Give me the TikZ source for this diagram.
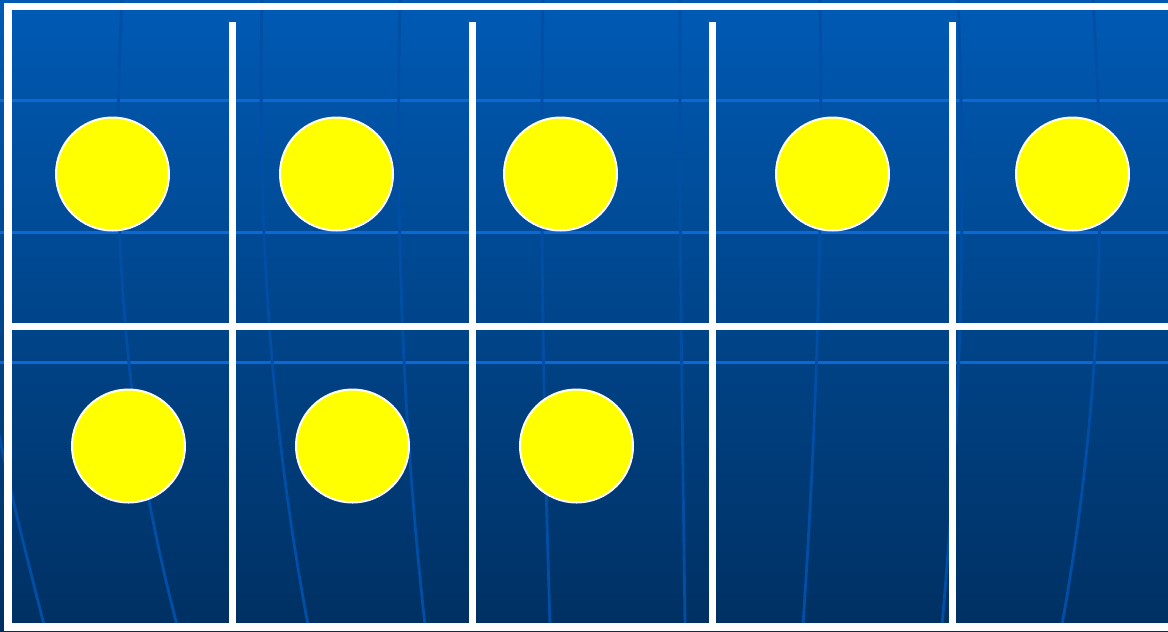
\documentclass[tikz,border=0pt]{standalone}
\usepackage{tikz}
\usetikzlibrary{positioning}
\definecolor{skytop}{RGB}{0,90,180}
\definecolor{skybottom}{RGB}{0,48,98}
\definecolor{glow}{RGB}{12,104,214}
\definecolor{meridian}{RGB}{0,78,165}
\definecolor{sun}{RGB}{255,255,0}
\tikzset{
  every picture/.style={line width=0.5pt},
  disc/.style={circle, draw=white, line width=0.2mm, fill=sun, minimum size=11.3mm, inner sep=0pt},
  frameline/.style={draw=white, line width=0.72mm},
  latline/.style={draw=glow, line width=0.3mm},
  longline/.style={draw=meridian, line width=0.28mm},
}

\begin{document}
\begin{tikzpicture}[x=0.1mm, y=-0.1mm]
  % backdrop
  \shade[top color=skytop, bottom color=skybottom] (0,0) rectangle (1168,631);
  \useasboundingbox (0,0) rectangle (1168,631);
  \foreach \y in {100,232,362} { \draw[latline] (0,\y) -- (1168,\y); }
  \draw[longline] (-2,430) .. controls (15,510) .. (44,625);
  \draw[longline] (122,0) .. controls (112,200) and (118,400) .. (177,625);
  \draw[longline] (262,0) .. controls (258,200) and (266,400) .. (308,625);
  \draw[longline] (400,0) .. controls (396,200) and (400,400) .. (425,625);
  \draw[longline] (543,0) .. controls (540,200) and (543,400) .. (550,625);
  \draw[longline] (680,0) .. controls (680,250) .. (685,625);
  \draw[longline] (820,0) .. controls (823,200) and (818,400) .. (803,625);
  \draw[longline] (958,0) .. controls (966,200) and (962,400) .. (942,625);
  \draw[longline] (1093,0) .. controls (1106,200) and (1102,400) .. (1062,625);
  % white frame
  \draw[frameline] (4,6.5) -- (1168,6.5);
  \draw[frameline] (8,3) -- (8,631);
  \draw[frameline] (8,627) -- (1168,627);
  \draw[frameline] (8,326.5) -- (1168,326.5);
  \foreach \x in {232.5,472.5,712.5,952.5} { \draw[frameline] (\x,22) -- (\x,631); }
  % counters
  \node[disc] (t1) at (112.5,174) {};
  \node[disc] (t2) at (336.5,174) {};
  \node[disc] (t3) at (560.5,174) {};
  \node[disc] (t4) at (832.5,174) {};
  \node[disc] (t5) at (1072.5,174) {};
  \node[disc] (b1) at (128.5,446) {};
  \node[disc] (b2) at (352.5,446) {};
  \node[disc] (b3) at (576.5,446) {};
\end{tikzpicture}
\end{document}
